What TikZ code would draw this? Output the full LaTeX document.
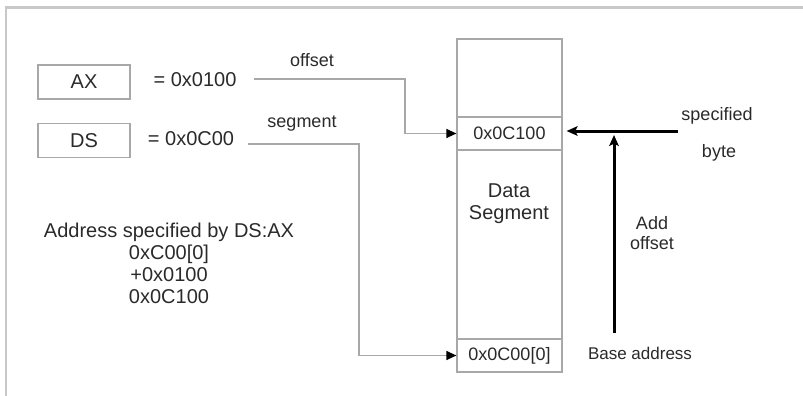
\documentclass[tikz,border=0pt]{standalone}
\usepackage{fontspec}
\setmainfont{Liberation Sans}
\usetikzlibrary{arrows.meta}
\definecolor{ink}{HTML}{2A2A2A}
\definecolor{wire}{HTML}{A8A8A8}
\definecolor{frame}{HTML}{C8C8C8}
\tikzset{
  reg/.style={draw=wire, line width=0.6pt, minimum width=46pt, minimum height=17pt, inner sep=0pt},
  cell/.style={draw=wire, line width=0.6pt, minimum width=52.5pt, minimum height=16.5pt, inner sep=0pt,
               font=\fontsize{9}{10}\selectfont, text=ink},
  big/.style={font=\fontsize{10}{11}\selectfont, text=ink, inner sep=0pt},
  small/.style={font=\fontsize{9}{10}\selectfont, text=ink, inner sep=0pt},
  thin/.style={draw=wire, line width=0.6pt, -{Triangle[length=5pt,width=4.5pt,color=black]}},
  thick/.style={draw=black, line width=1.5pt, -{Stealth[length=5.5pt,width=4.8pt,inset=1.2pt]}},
}
\begin{document}
\begin{tikzpicture}[x=0.5pt, y=-0.5pt]
  \useasboundingbox (0,0) rectangle (803,396);
  % outer frame (top and left edges)
  \draw[frame, line width=1.25pt] (6,396) -- (6,7.5) -- (803,7.5);

  % registers
  \node[reg, big] (ax) at (84,82) {AX};
  \node[reg, big] (ds) at (84,140.5) {DS};
  \node[big] (axval) at (195,80) {= 0x0100};
  \node[big] (dsval) at (191,139) {= 0x0C00};

  % data segment column
  \node[draw=wire, line width=0.6pt, minimum width=52.5pt, minimum height=166.5pt, inner sep=0pt] (col) at (509.5,205.5) {};
  \node[cell] (byte) at (509.5,133.5) {0x0C100};
  \node[cell] (base) at (509.5,355.5) {0x0C00[0]};
  \node[big, align=center] (dseg) at (509,204) {Data\\Segment};

  % offset and segment connectors
  \coordinate (offStart) at (254,79);
  \coordinate (offBend) at (405,79);
  \coordinate (segStart) at (248,144);
  \coordinate (segBend) at (359,144);
  \draw[thin] (offStart) -- (offBend) |- (byte.west);
  \draw[thin] (segStart) -- (segBend) |- (base.west);
  \node[small] (offlbl) at (312,60) {offset};
  \node[small] (seglbl) at (302,124) {segment};

  % specified byte and offset addition
  \coordinate (specStart) at (678,131);
  \coordinate (addStart) at (614,333);
  \coordinate (addEnd) at (614,135);
  \draw[thick] (specStart) -- ([xshift=2pt]byte.east |- specStart);
  \draw[thick] (addStart) -- (addEnd);
  \node[small] (spec) at (717,116) {specified};
  \node[small] (bytelbl) at (719,153) {byte};
  \node[small, align=center] (addlbl) at (652,233) {Add\\offset};
  \node[font=\fontsize{8.5}{10}\selectfont, text=ink, inner sep=0pt] (baselbl) at (640,353) {Base address};

  % address calculation
  \node[big, align=center] (calc) at (169,263.5) {Address specified by DS:AX\\0xC00[0]\\+0x0100\\0x0C100};
\end{tikzpicture}
\end{document}
